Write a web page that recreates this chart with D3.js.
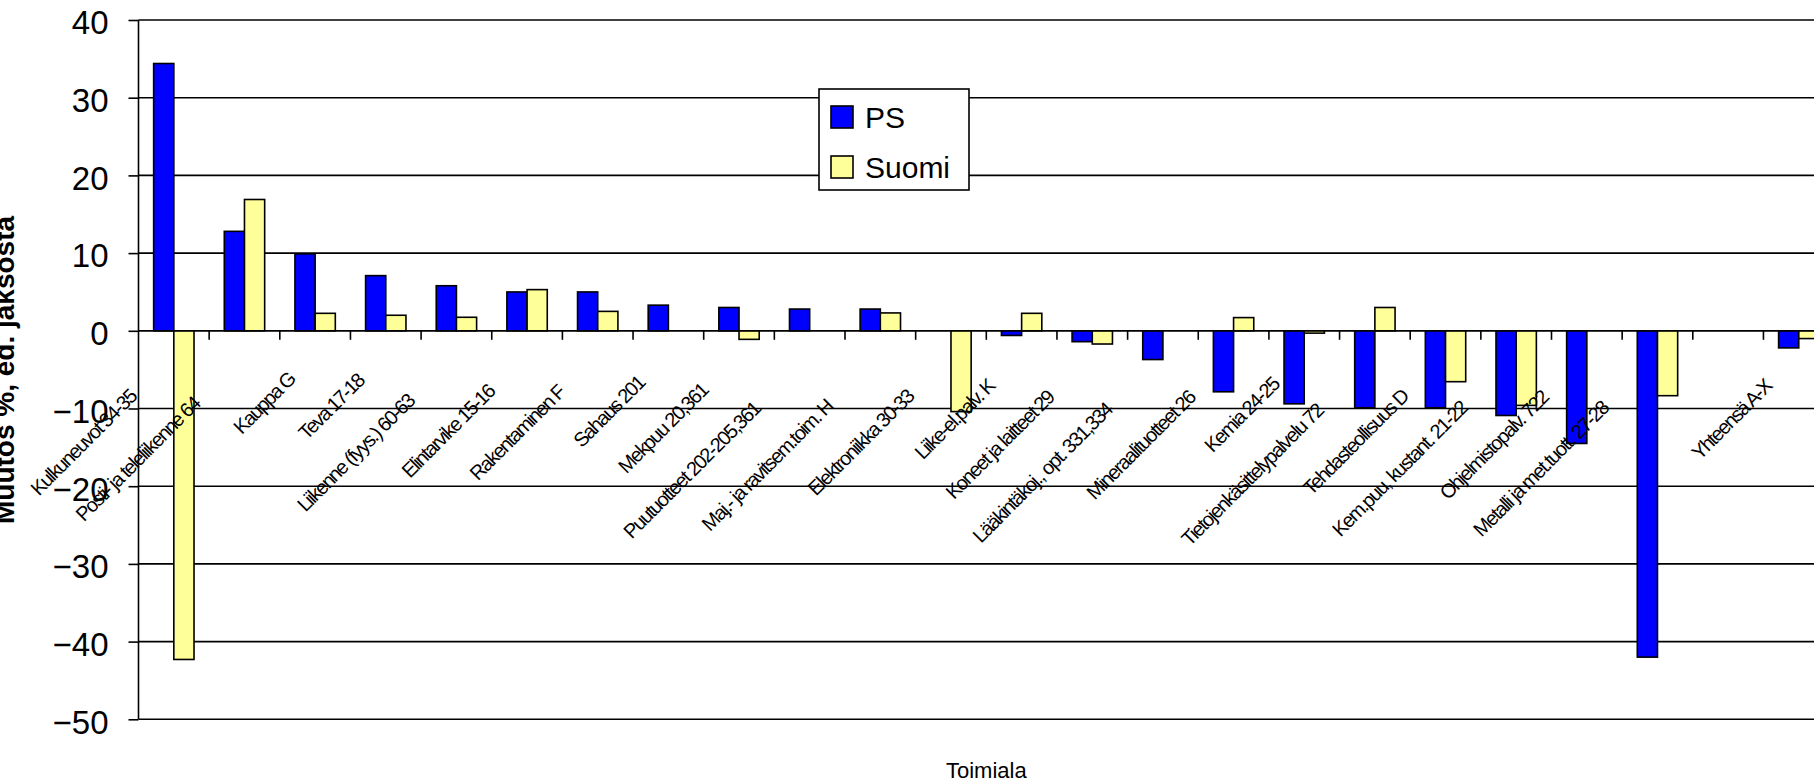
<!DOCTYPE html>
<html>
<head>
<meta charset="utf-8">
<script src="https://cdn.jsdelivr.net/npm/d3@7"></script>
<style>
  html, body { margin: 0; padding: 0; background: #fff; overflow: hidden; }
  svg { display: block; }
</style>
</head>
<body>
<svg id="chart" width="1814" height="783"></svg>
<script>
// ---- data ----
const categories = [
  "Kulkuneuvot 34-35", "Posti- ja teleliikenne 64", "Kauppa G", "Teva 17-18",
  "Liikenne (fyys.) 60-63", "Elintarvike 15-16", "Rakentaminen F", "Sahaus 201",
  "Mekpuu 20,361", "Puutuotteet 202-205,361", "Maj.- ja ravitsem.toim. H",
  "Elektroniikka 30-33", "Liike-el.palv. K", "Koneet ja laitteet 29",
  "Lääkintäkoj., opt. 331,334", "Mineraalituotteet 26", "Kemia 24-25",
  "Tietojenkäsittelypalvelu 72", "Tehdasteollisuus D", "Kem.puu, kustant. 21-22",
  "Ohjelmistopalv. 722", "Metalli ja met.tuott. 27-28", "", "Yhteensä A-X"
];
const seriesNames = ["PS", "Suomi"];
const psValues = [34.4, 12.8, 9.9, 7.1, 5.8, 5.0, 5.0, 3.3, 3.0, 2.8, 2.8, 0,
  -0.6, -1.4, -3.7, -7.85, -9.4, -9.9, -9.9, -10.9, -14.5, -42.0, null, -2.2];
const suomiValues = [-42.3, 16.9, 2.25, 2.0, 1.74, 5.3, 2.5, 0, -1.1, 0, 2.3, -10.4,
  2.25, -1.7, 0, 1.7, -0.3, 3.0, -6.55, -9.6, 0, -8.35, null, -1.0];
const yTicks = [40, 30, 20, 10, 0, -10, -20, -30, -40, -50];
const colors = ["#0000FF", "#FFFF99"];
const yTitle = "Muutos %, ed. jaksosta";
const xTitle = "Toimiala";

// ---- layout ----
const svg = d3.select("#chart");
const plotLeft = 138.5, catStep = 70.65;
const plotRight = plotLeft + catStep * categories.length;
const yTop = 20, yBottom = 719.3;
const font = "Arial, 'Liberation Sans', sans-serif";

const x0 = d3.scaleBand().domain(d3.range(categories.length))
  .range([plotLeft, plotRight]).paddingInner(0).paddingOuter(0);
const x1 = d3.scaleBand().domain(seriesNames)
  .range([0, x0.bandwidth()]).paddingInner(0).paddingOuter(0.75);
const y = d3.scaleLinear().domain([-50, 40]).range([yBottom, yTop]);

const ink = "#000";
const lw = 1.6;

// gridlines
svg.append("g").selectAll("line").data(yTicks).join("line")
  .attr("x1", plotLeft).attr("x2", plotRight)
  .attr("y1", d => y(d)).attr("y2", d => y(d))
  .attr("stroke", ink).attr("stroke-width", lw);

// y axis
const yAxis = d3.axisLeft(y).tickValues(yTicks).tickSize(10).tickPadding(20)
  .tickFormat(d3.format("d"));
const gy = svg.append("g").attr("transform", `translate(${plotLeft},0)`).call(yAxis);
gy.select(".domain").attr("stroke", ink).attr("stroke-width", lw)
  .attr("d", `M0,${yTop}V${yBottom}`);
gy.selectAll(".tick line").attr("stroke", ink).attr("stroke-width", lw);
gy.selectAll(".tick text")
  .attr("font-family", font)
  .attr("font-size", 33).attr("fill", "#000").attr("dy", "0.42em");

// bars
const seriesData = [psValues, suomiValues];
const groups = svg.append("g").selectAll("g").data(seriesData).join("g")
  .attr("fill", (d, i) => colors[i]);
groups.each(function(vals, si) {
  d3.select(this).selectAll("rect")
    .data(vals.map((v, i) => ({v, i})).filter(d => d.v !== null))
    .join("rect")
    .attr("x", d => x0(d.i) + x1(seriesNames[si]))
    .attr("width", x1.bandwidth())
    .attr("y", d => y(Math.max(0, d.v)))
    .attr("height", d => Math.abs(y(d.v) - y(0)))
    .attr("stroke", ink).attr("stroke-width", lw);
});

// category axis at zero
const xAxis = d3.axisBottom(x0).tickSize(0).tickFormat("");
const gx = svg.append("g").attr("transform", `translate(0,${y(0)})`).call(xAxis);
gx.select(".domain").attr("stroke", ink).attr("stroke-width", lw)
  .attr("d", `M${plotLeft},0H${plotRight}`);
// boundary ticks
svg.append("g").selectAll("line").data(d3.range(1, categories.length)).join("line")
  .attr("x1", d => x0(d)).attr("x2", d => x0(d))
  .attr("y1", y(0)).attr("y2", y(0) + 9)
  .attr("stroke", ink).attr("stroke-width", lw);

// category labels (rotated 45°); centre slides down the diagonal with text length
const labels = svg.append("g").selectAll("text").data(categories).join("text")
  .attr("text-anchor", "middle").attr("dy", "0.35em")
  .attr("font-family", font)
  .attr("font-size", 20).attr("letter-spacing", "-1.6px")
  .attr("fill", "#000")
  .text(d => d);
labels.attr("transform", function(d, i) {
  const L = this.getComputedTextLength();
  const cy = 354 + 0.633 * L;
  const cx = x0(i) + x0.bandwidth() / 2 + 352 - cy;
  return `translate(${cx},${cy}) rotate(-45)`;
});

// axis titles
svg.append("text")
  .attr("transform", `translate(14,370) rotate(-90)`)
  .attr("text-anchor", "middle")
  .attr("font-family", font)
  .attr("font-weight", "bold").attr("font-size", 28)
  .text(yTitle);
svg.append("text")
  .attr("x", (plotLeft + plotRight) / 2).attr("y", 778)
  .attr("text-anchor", "middle")
  .attr("font-family", font)
  .attr("font-size", 22)
  .text(xTitle);

// legend
const lg = svg.append("g").attr("transform", "translate(819,89)");
lg.append("rect").attr("width", 150).attr("height", 101)
  .attr("fill", "#fff").attr("stroke", ink).attr("stroke-width", lw);
const li = lg.selectAll("g").data(seriesNames).join("g")
  .attr("transform", (d, i) => `translate(12,${17 + i * 50})`);
li.append("rect").attr("width", 22).attr("height", 22)
  .attr("fill", (d, i) => colors[i]).attr("stroke", ink).attr("stroke-width", lw);
li.append("text").attr("x", 34).attr("y", 11).attr("dy", "0.36em")
  .attr("font-family", font)
  .attr("font-size", 30).text(d => d);
</script>
</body>
</html>
